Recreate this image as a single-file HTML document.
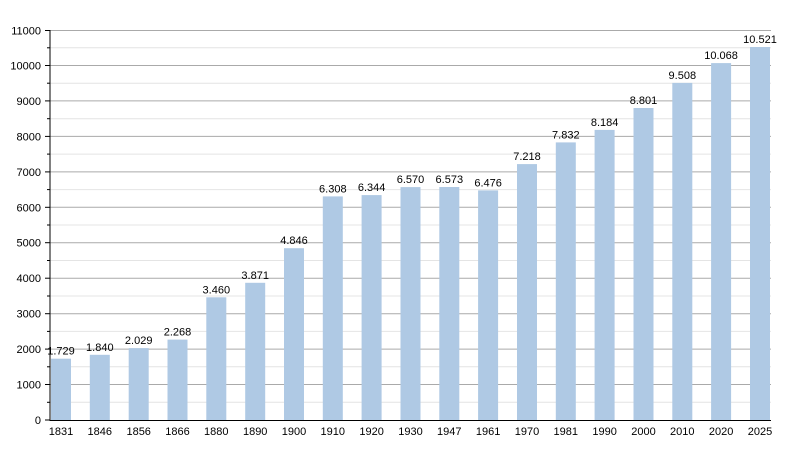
<!DOCTYPE html>
<html><head><meta charset="utf-8"><style>
html,body{margin:0;padding:0;background:#fff}
text{font-family:"Liberation Sans",sans-serif;font-size:11px;fill:#000}
</style></head><body>
<svg width="800" height="450" xmlns="http://www.w3.org/2000/svg">
<g stroke="#e4e4e4" stroke-width="1">
<line x1="50" x2="771" y1="402.3" y2="402.3"/><line x1="50" x2="771" y1="366.8" y2="366.8"/><line x1="50" x2="771" y1="331.4" y2="331.4"/><line x1="50" x2="771" y1="296.0" y2="296.0"/><line x1="50" x2="771" y1="260.5" y2="260.5"/><line x1="50" x2="771" y1="225.0" y2="225.0"/><line x1="50" x2="771" y1="189.6" y2="189.6"/><line x1="50" x2="771" y1="154.1" y2="154.1"/><line x1="50" x2="771" y1="118.7" y2="118.7"/><line x1="50" x2="771" y1="83.2" y2="83.2"/><line x1="50" x2="771" y1="47.8" y2="47.8"/>
</g>
<g stroke="#aaa" stroke-width="1">
<line x1="50" x2="771" y1="384.5" y2="384.5"/><line x1="50" x2="771" y1="349.1" y2="349.1"/><line x1="50" x2="771" y1="313.7" y2="313.7"/><line x1="50" x2="771" y1="278.2" y2="278.2"/><line x1="50" x2="771" y1="242.7" y2="242.7"/><line x1="50" x2="771" y1="207.3" y2="207.3"/><line x1="50" x2="771" y1="171.9" y2="171.9"/><line x1="50" x2="771" y1="136.4" y2="136.4"/><line x1="50" x2="771" y1="100.9" y2="100.9"/><line x1="50" x2="771" y1="65.5" y2="65.5"/><line x1="50" x2="771" y1="30.5" y2="30.5"/>
</g>
<g fill="#afc9e4">
<rect x="51" y="358.7" width="20" height="61.3"/><rect x="89.8" y="354.8" width="20" height="65.2"/><rect x="128.7" y="348.1" width="20" height="71.9"/><rect x="167.5" y="339.6" width="20" height="80.4"/><rect x="206.3" y="297.3" width="20" height="122.7"/><rect x="245.2" y="282.8" width="20" height="137.2"/><rect x="284" y="248.2" width="20" height="171.8"/><rect x="322.8" y="196.4" width="20" height="223.6"/><rect x="361.6" y="195.1" width="20" height="224.9"/><rect x="400.5" y="187.1" width="20" height="232.9"/><rect x="439.3" y="187" width="20" height="233"/><rect x="478.1" y="190.4" width="20" height="229.6"/><rect x="517" y="164.1" width="20" height="255.9"/><rect x="555.8" y="142.4" width="20" height="277.6"/><rect x="594.6" y="129.9" width="20" height="290.1"/><rect x="633.5" y="108" width="20" height="312"/><rect x="672.3" y="82.9" width="20" height="337.1"/><rect x="711.1" y="63.1" width="20" height="356.9"/><rect x="750" y="47" width="20" height="373"/>
</g>
<g text-anchor="middle">
<text x="61" y="354.7">1.729</text><text x="99.8" y="350.8">1.840</text><text x="138.7" y="344.1">2.029</text><text x="177.5" y="335.6">2.268</text><text x="216.3" y="293.3">3.460</text><text x="255.2" y="278.8">3.871</text><text x="294" y="244.2">4.846</text><text x="332.8" y="192.4">6.308</text><text x="371.6" y="191.1">6.344</text><text x="410.5" y="183.1">6.570</text><text x="449.3" y="183">6.573</text><text x="488.1" y="186.4">6.476</text><text x="527" y="160.1">7.218</text><text x="565.8" y="138.4">7.832</text><text x="604.6" y="125.9">8.184</text><text x="643.5" y="104">8.801</text><text x="682.3" y="78.9">9.508</text><text x="721.1" y="59.1">10.068</text><text x="760" y="43">10.521</text>
</g>
<g stroke="#000" stroke-width="1">
<line x1="50" x2="50" y1="30" y2="421"/><line x1="50" x2="771" y1="420.5" y2="420.5"/>
<line x1="45" x2="50" y1="420" y2="420"/><line x1="45" x2="50" y1="384.5" y2="384.5"/><line x1="45" x2="50" y1="349.1" y2="349.1"/><line x1="45" x2="50" y1="313.7" y2="313.7"/><line x1="45" x2="50" y1="278.2" y2="278.2"/><line x1="45" x2="50" y1="242.7" y2="242.7"/><line x1="45" x2="50" y1="207.3" y2="207.3"/><line x1="45" x2="50" y1="171.9" y2="171.9"/><line x1="45" x2="50" y1="136.4" y2="136.4"/><line x1="45" x2="50" y1="100.9" y2="100.9"/><line x1="45" x2="50" y1="65.5" y2="65.5"/><line x1="45" x2="50" y1="30.5" y2="30.5"/>
<line x1="47" x2="50" y1="402.3" y2="402.3"/><line x1="47" x2="50" y1="366.8" y2="366.8"/><line x1="47" x2="50" y1="331.4" y2="331.4"/><line x1="47" x2="50" y1="296" y2="296"/><line x1="47" x2="50" y1="260.5" y2="260.5"/><line x1="47" x2="50" y1="225" y2="225"/><line x1="47" x2="50" y1="189.6" y2="189.6"/><line x1="47" x2="50" y1="154.1" y2="154.1"/><line x1="47" x2="50" y1="118.7" y2="118.7"/><line x1="47" x2="50" y1="83.2" y2="83.2"/><line x1="47" x2="50" y1="47.8" y2="47.8"/>
</g>
<g text-anchor="end">
<text x="41" y="424">0</text><text x="41" y="388.5">1000</text><text x="41" y="353.1">2000</text><text x="41" y="317.7">3000</text><text x="41" y="282.2">4000</text><text x="41" y="246.7">5000</text><text x="41" y="211.3">6000</text><text x="41" y="175.9">7000</text><text x="41" y="140.4">8000</text><text x="41" y="104.9">9000</text><text x="41" y="69.5">10000</text><text x="41" y="34.5">11000</text>
</g>
<g text-anchor="middle">
<text x="61" y="435">1831</text><text x="99.8" y="435">1846</text><text x="138.7" y="435">1856</text><text x="177.5" y="435">1866</text><text x="216.3" y="435">1880</text><text x="255.2" y="435">1890</text><text x="294" y="435">1900</text><text x="332.8" y="435">1910</text><text x="371.6" y="435">1920</text><text x="410.5" y="435">1930</text><text x="449.3" y="435">1947</text><text x="488.1" y="435">1961</text><text x="527" y="435">1970</text><text x="565.8" y="435">1981</text><text x="604.6" y="435">1990</text><text x="643.5" y="435">2000</text><text x="682.3" y="435">2010</text><text x="721.1" y="435">2020</text><text x="760" y="435">2025</text>
</g>
</svg>
</body></html>
